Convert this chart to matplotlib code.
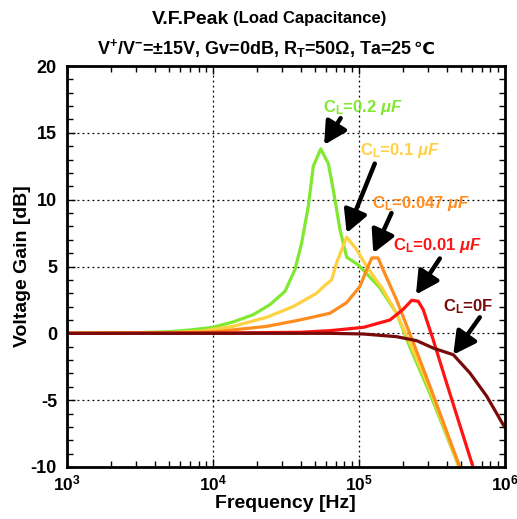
# V.F.Peak vs load capacitance - voltage gain over frequency

import numpy as np
import matplotlib
matplotlib.use('Agg')
import matplotlib.pyplot as plt
from matplotlib.ticker import MultipleLocator, LogLocator, NullFormatter

# --------------------------- DATA ---------------------------

# C_L = 0.2 uF
f_02 = [1e3, 3e3, 5e3, 7e3, 1e4, 1.38e4, 1.9e4, 2.47e4, 3.13e4, 3.66e4, 4.07e4, 4.52e4, 4.89e4, 5.5e4,
        6.2e4, 6.7e4, 7.45e4, 8.28e4, 1.0e5, 1.4e5, 1.82e5, 2.24e5, 3.08e5, 5.0e5]
g_02 = [0.0, 0.05, 0.12, 0.25, 0.45, 0.85, 1.4, 2.15, 3.14, 4.76, 6.76, 9.5, 12.5, 13.8,
        12.7, 10.75, 7.76, 5.7, 5.1, 3.4, 1.5, -1.0, -4.5, -10.3]

# C_L = 0.1 uF
f_01 = [1e3, 5e3, 8.2e3, 1.38e4, 2.34e4, 3.56e4, 5.15e4, 6.03e4, 6.53e4, 7.06e4, 8.28e4, 9.7e4,
        1.135e5, 1.47e5, 1.82e5, 2.24e5, 3.08e5, 5.0e5]
g_01 = [0.0, 0.05, 0.15, 0.52, 1.2, 2.0, 3.0, 3.7, 4.0, 5.27, 7.2, 6.26,
        5.0, 3.27, 1.5, -0.7, -4.2, -10.3]

# C_L = 0.047 uF
f_047 = [1e3, 5e3, 1e4, 2.34e4, 3.96e4, 6.35e4, 8.28e4, 1.02e5, 1.135e5, 1.23e5, 1.36e5, 1.47e5,
         1.82e5, 2.37e5, 3.08e5, 5.05e5]
g_047 = [0.0, 0.03, 0.1, 0.52, 1.0, 1.5, 2.3, 3.5, 4.76, 5.64, 5.64, 4.76,
         2.5, -0.7, -3.96, -10.3]

# C_L = 0.01 uF
f_001 = [1e3, 1e4, 4e4, 6.35e4, 1.08e5, 1.64e5, 2.02e5, 2.31e5, 2.56e5, 2.77e5, 3.24e5, 4.0e5, 6.2e5]
g_001 = [0.0, 0.02, 0.08, 0.2, 0.45, 1.0, 1.8, 2.47, 2.4, 1.77, -0.47, -3.7, -10.3]

# C_L = 0 F
f_0 = [1e3, 1e4, 6.35e4, 1.08e5, 1.82e5, 2.5e5, 3.24e5, 4.45e5, 5.78e5, 7.54e5, 9.77e5, 1e6]
g_0 = [0.0, 0.0, 0.0, -0.05, -0.25, -0.55, -1.1, -1.6, -2.96, -4.7, -6.83, -7.0]

series_labels = [r'C$\mathregular{_L}$=0.2 $\mathit{\mu F}$', r'C$\mathregular{_L}$=0.1 $\mathit{\mu F}$',
                 r'C$\mathregular{_L}$=0.047 $\mathit{\mu F}$', r'C$\mathregular{_L}$=0.01 $\mathit{\mu F}$',
                 r'C$\mathregular{_L}$=0F']
series_colors = ['#80E830', '#FFD040', '#FF8C1E', '#FF1414', '#780A0A']

# Annotation positions: arrow head, arrow tail, label centre (freq [Hz], gain [dB]).
arrow_heads = [(5.8e4, 14.1), (8.28e4, 7.5), (1.26e5, 6.0), (2.47e5, 2.9), (4.45e5, -1.6)]
arrow_tails = [(7.53e4, 16.1), (1.29e5, 12.7), (1.68e5, 9.0), (3.6e5, 5.6), (6.76e5, 1.2)]
label_pos = [(1.07e5, 16.9), (1.92e5, 13.7), (2.67e5, 9.7), (3.45e5, 6.6), (5.6e5, 2.0)]

# --------------------------- PLOT ---------------------------

plt.rcParams['font.family'] = ['Liberation Sans', 'DejaVu Sans']
plt.rcParams['font.weight'] = 'bold'
plt.rcParams['axes.labelweight'] = 'bold'
plt.rcParams['axes.unicode_minus'] = False
plt.rcParams['mathtext.fontset'] = 'custom'
plt.rcParams['mathtext.rm'] = 'Liberation Sans:bold'
plt.rcParams['mathtext.bf'] = 'Liberation Sans:bold'
plt.rcParams['mathtext.it'] = 'Liberation Sans:bold:italic'

fig = plt.figure(figsize=(5.17, 5.19), dpi=100)
ax = fig.add_axes([0.129, 0.1002, 0.847, 0.7726])

curves = [(f_02, g_02), (f_01, g_01), (f_047, g_047), (f_001, g_001), (f_0, g_0)]
for (f, g), c in zip(curves, series_colors):
    ax.plot(f, g, color=c, lw=2.3)

for lab, c, head, tail, pos in zip(series_labels, series_colors, arrow_heads, arrow_tails, label_pos):
    ax.annotate('', xy=head, xytext=tail,
                arrowprops=dict(arrowstyle='-|>,head_length=0.75,head_width=0.4', color='black',
                                lw=3.2, mutation_scale=18, shrinkA=0, shrinkB=0))
    ax.text(pos[0], pos[1], lab, color=c, fontsize=12, ha='center', va='center')

ax.set_xscale('log')
ax.set_xlim(1e3, 1e6)
ax.set_ylim(-10, 20)
ax.yaxis.set_major_locator(MultipleLocator(5))
ax.yaxis.set_minor_locator(MultipleLocator(1))
ax.xaxis.set_minor_locator(LogLocator(base=10, subs=np.arange(2, 10)))
ax.xaxis.set_minor_formatter(NullFormatter())
ax.tick_params(which='both', direction='in', top=True, right=True, labelsize=13)
ax.tick_params(which='major', length=6, width=1)
ax.tick_params(which='minor', length=4, width=1)
ax.tick_params(axis='x', pad=5, labelsize=12.5)
ax.tick_params(axis='y', pad=7)
for s in ax.spines.values():
    s.set_linewidth(2)
ax.grid(True, which='major', color='black', linestyle=(0, (1.5, 2.5)), lw=0.9)

ax.set_xlabel('Frequency [Hz]', fontsize=14, labelpad=1)
ax.set_ylabel('Voltage Gain [dB]', fontsize=14, labelpad=0)

fig.text(229 / 517, 1 - 19 / 519, 'V.F.Peak', fontsize=14, ha='right', va='center')
fig.text(233 / 517, 1 - 19 / 519, '(Load Capacitance)', fontsize=12, ha='left', va='center')

# Subtitle: mathtext part, then the degree sign from a font that has it.
sub = fig.text(97 / 517, 1 - 49 / 519,
               r'V$^{+}$/V$^{-}$=±15V, Gv=0dB, R$\mathregular{_T}$=50Ω, Ta=25',
               fontsize=13, ha='left', va='center')
fig.canvas.draw()
bb = sub.get_window_extent()
fig.text((bb.x1 + 1) / fig.bbox.width, 1 - 49 / 519, '℃', family='DejaVu Sans', fontsize=12.5,
         ha='left', va='center')

fig.savefig('out.png', dpi=100)
